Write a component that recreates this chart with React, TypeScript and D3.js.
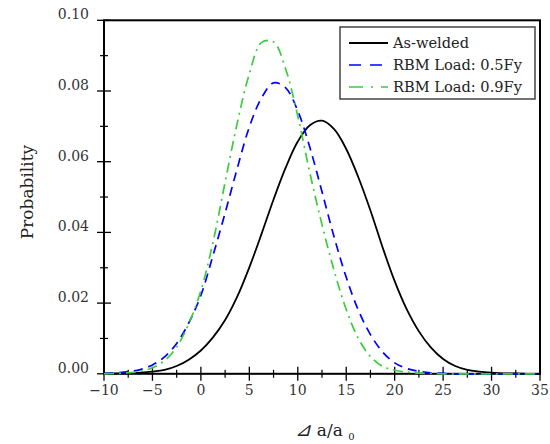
import React, { useEffect, useRef } from "react";
import * as d3 from "d3";

// crack growth ratio grid (x) at 1.25 steps
const xGrid = [
  -10, -8.75, -7.5, -6.25, -5, -3.75, -2.5, -1.25, 0, 1.25, 2.5, 3.75, 5, 6.25,
  7.5, 8.75, 10, 11.25, 12.5, 13.75, 15, 16.25, 17.5, 18.75, 20, 21.25, 22.5,
  23.75, 25, 26.25, 27.5, 28.75, 30, 31.25, 32.5, 33.75, 35,
];

const asWelded = [
  0, 0.0001, 0.0002, 0.0003, 0.0006, 0.0011, 0.0022, 0.004, 0.0066, 0.0103,
  0.0152, 0.0218, 0.0301, 0.0395, 0.0493, 0.0583, 0.0657, 0.0703, 0.0716,
  0.0692, 0.0636, 0.0556, 0.0462, 0.0358, 0.0262, 0.0182, 0.012, 0.0074, 0.0042,
  0.0022, 0.0011, 0.0006, 0.0003, 0.0001, 0.0001, 0, 0,
];

const rbm05 = [
  0.0001, 0.0003, 0.0006, 0.0012, 0.0025, 0.0048, 0.0086, 0.0144, 0.0222,
  0.0335, 0.0455, 0.0581, 0.0698, 0.078, 0.0823, 0.0809, 0.0744, 0.064, 0.0515,
  0.0387, 0.0273, 0.018, 0.0111, 0.0062, 0.0031, 0.0015, 0.0007, 0.0003, 0.0001,
  0, 0, 0, 0, 0, 0, 0, 0,
];

const rbm09 = [
  0, 0.0001, 0.0003, 0.0007, 0.0017, 0.0037, 0.0076, 0.0142, 0.0235, 0.0372,
  0.0542, 0.0709, 0.0848, 0.0937, 0.0939, 0.0862, 0.0729, 0.0568, 0.0422,
  0.0292, 0.0182, 0.01, 0.0049, 0.0021, 0.001, 0.0005, 0.0002, 0.0001, 0, 0, 0,
  0, 0, 0, 0, 0, 0,
];

const seriesNames = ["As-welded", "RBM Load: 0.5Fy", "RBM Load: 0.9Fy"];
const xTicks = [-10, -5, 0, 5, 10, 15, 20, 25, 30, 35];
const yTicks = [0, 0.02, 0.04, 0.06, 0.08, 0.1];

const App = () => {
  const svgRef = useRef(null);

  useEffect(() => {
    const svg = d3.select(svgRef.current);
    svg.selectAll("*").remove();

    const left = 104;
    const right = 540;
    const top = 20.3;
    const bottom = 373.8;
    const font = "'DejaVu Serif', serif";

    const x = d3.scaleLinear().domain([-10, 35]).range([left, right]);
    const y = d3.scaleLinear().domain([0, 0.1]).range([bottom, top]);

    // minor ticks every half step
    const xMinor = d3.range(-7.5, 35, 5);
    const yMinor = d3.range(0.01, 0.1, 0.02);

    const ax = svg.append("g");

    // x ticks crossing the axis
    xTicks.forEach((t) => {
      ax.append("line")
        .attr("x1", x(t)).attr("x2", x(t))
        .attr("y1", bottom - 7).attr("y2", bottom + 7)
        .attr("stroke", "#000").attr("stroke-width", 1.3);
      ax.append("text")
        .attr("x", x(t))
        .attr("y", bottom + 21)
        .attr("text-anchor", "middle")
        .style("font-family", font)
        .style("font-size", "14px")
        .style("fill", "#333")
        .text(d3.format("")(t));
    });
    xMinor.forEach((t) => {
      ax.append("line")
        .attr("x1", x(t)).attr("x2", x(t))
        .attr("y1", bottom - 4).attr("y2", bottom + 4)
        .attr("stroke", "#000").attr("stroke-width", 1.2);
    });

    // y ticks
    yTicks.forEach((t) => {
      ax.append("line")
        .attr("x1", left - 7).attr("x2", left + 7)
        .attr("y1", y(t)).attr("y2", y(t))
        .attr("stroke", "#000").attr("stroke-width", 1.3);
      ax.append("text")
        .attr("x", left - 15)
        .attr("y", y(t) - 1)
        .attr("text-anchor", "end")
        .style("font-family", font)
        .style("font-size", "14px")
        .style("fill", "#333")
        .text(d3.format(".2f")(t));
    });
    yMinor.forEach((t) => {
      ax.append("line")
        .attr("x1", left - 4).attr("x2", left + 4)
        .attr("y1", y(t)).attr("y2", y(t))
        .attr("stroke", "#000").attr("stroke-width", 1.2);
    });

    // plot frame
    svg.append("rect")
      .attr("x", left).attr("y", top)
      .attr("width", right - left).attr("height", bottom - top)
      .attr("fill", "none")
      .attr("stroke", "#000")
      .attr("stroke-width", 2);

    // curves
    const line = d3
      .line()
      .x((d) => x(d[0]))
      .y((d) => y(Math.max(0, d[1])))
      .curve(d3.curveCatmullRom.alpha(0.5));

    const styles = [
      { color: "#000000", dash: null, width: 1.8 },
      { color: "#0000ff", dash: "9,6", width: 1.7 },
      { color: "#3dcc3d", dash: "10,5,2,5", width: 1.7 },
    ];

    [asWelded, rbm05, rbm09].forEach((vals, i) => {
      const pts = xGrid.map((xv, j) => [xv, vals[j]]);
      svg.append("path")
        .datum(pts)
        .attr("d", line)
        .attr("fill", "none")
        .attr("stroke", styles[i].color)
        .attr("stroke-width", styles[i].width)
        .attr("stroke-dasharray", styles[i].dash);
    });

    // legend
    const legend = svg.append("g").attr("transform", "translate(340, 27)");
    legend.append("rect")
      .attr("width", 195).attr("height", 72)
      .attr("fill", "#fff")
      .attr("stroke", "#444")
      .attr("stroke-width", 1.5);

    const legendDash = [null, "12,9", "14,8,2,8"];
    seriesNames.forEach((name, i) => {
      const row = legend.append("g").attr("transform", `translate(0, ${16 + i * 22})`);
      row.append("line")
        .attr("x1", 9).attr("x2", 48)
        .attr("y1", 0).attr("y2", 0)
        .attr("stroke", styles[i].color)
        .attr("stroke-width", styles[i].width)
        .attr("stroke-dasharray", legendDash[i]);
      row.append("text")
        .attr("x", 53)
        .attr("y", 0)
        .attr("dy", "0.35em")
        .style("font-family", font)
        .style("font-size", "14.6px")
        .style("fill", "#222")
        .text(name);
    });

    // axis titles
    svg.append("text")
      .attr("transform", `translate(27, ${(top + bottom) / 2 - 5}) rotate(-90)`)
      .attr("text-anchor", "middle")
      .attr("dy", "0.35em")
      .style("font-family", font)
      .style("font-size", "17px")
      .style("fill", "#222")
      .text("Probability");

    const xl = svg.append("text")
      .attr("x", (left + right) / 2 + 3)
      .attr("y", 436)
      .attr("text-anchor", "middle")
      .style("font-family", font)
      .style("font-size", "17px")
      .style("fill", "#222");
    xl.append("tspan").style("font-style", "italic").style("font-size", "19px").text("⊿");
    xl.append("tspan").text(" a/a ");
    xl.append("tspan")
      .attr("dy", 4)
      .style("font-size", "10px")
      .text("0");
  }, []);

  return (
    <svg
      ref={svgRef}
      width={550}
      height={444}
      style={{ position: "absolute", left: 0, top: 0, background: "#fff" }}
    ></svg>
  );
};

export default App;
